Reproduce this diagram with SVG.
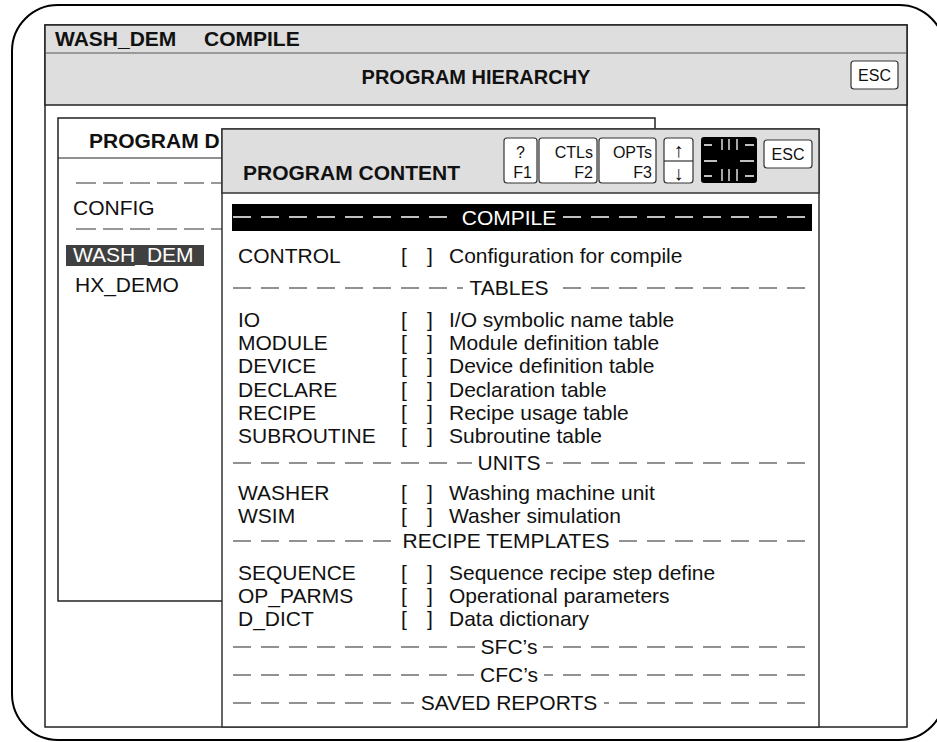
<svg xmlns="http://www.w3.org/2000/svg" width="937" height="742" viewBox="0 0 937 742">
  <defs>
    <style>
      text { font-family: "Liberation Sans", Arial, sans-serif; fill: #111; }
      .t { font-size: 21px; }
      .b { font-size: 21px; font-weight: bold; }
      .btn { font-size: 16px; }
      .arr { font-size: 20px; }
      .key { fill: #fff; stroke: #333; stroke-width: 1.2; }
      .dash { stroke: #6e6e6e; stroke-width: 1.5; stroke-dasharray: 18 10; fill: none; }
      .dashw { stroke: #fff; stroke-width: 1.5; stroke-dasharray: 18 10; fill: none; }
      .dashl { stroke: #333; stroke-width: 1.2; stroke-dasharray: 20 7; fill: none; }
      .mark { stroke: #fff; stroke-width: 1.3; fill: none; }
    </style>
  </defs>

  <!-- outer rounded frame -->
  <rect id="frame" x="12" y="5" width="933" height="735" rx="46" ry="46" fill="#fff" stroke="#000" stroke-width="2"/>

  <!-- main window -->
  <g id="main-window">
    <rect x="45" y="25" width="862" height="702" fill="#fff" stroke="#222" stroke-width="1.5"/>
    <rect x="45" y="25" width="862" height="80" fill="#dedede" stroke="#222" stroke-width="1.5"/>
    <line x1="45" y1="53" x2="907" y2="53" stroke="#555" stroke-width="1.2"/>
    <text class="b" x="55" y="46">WASH_DEM</text>
    <text class="b" x="204" y="46">COMPILE</text>
    <text class="b" x="476" y="84" text-anchor="middle" style="font-size:20px">PROGRAM HIERARCHY</text>
    <rect class="key" x="851" y="61" width="47" height="28" rx="3"/>
    <text class="btn" x="874.5" y="81" text-anchor="middle">ESC</text>
  </g>

  <!-- program directory panel (behind) -->
  <g id="program-directory">
    <rect x="58" y="118" width="597" height="483" fill="#fff" stroke="#222" stroke-width="1.5"/>
    <line x1="58" y1="158" x2="655" y2="158" stroke="#222" stroke-width="1.2"/>
    <text class="b" x="89" y="148">PROGRAM D</text>
    <line class="dashl" x1="76" y1="183" x2="222" y2="183"/>
    <text class="t" x="73" y="215">CONFIG</text>
    <line class="dashl" x1="76" y1="229" x2="222" y2="229"/>
    <rect x="66" y="245" width="138" height="21" fill="#404040"/>
    <text class="t" x="73" y="262" style="fill:#fff">WASH_DEM</text>
    <text class="t" x="75" y="292">HX_DEMO</text>
  </g>

  <!-- program content panel (front) -->
  <g id="program-content">
    <rect x="222" y="129" width="597" height="598" fill="#fff" stroke="#333" stroke-width="1.5"/>
    <rect x="222" y="129" width="597" height="64" fill="#dedede" stroke="#333" stroke-width="1.5"/>
    <text class="b" x="243" y="180">PROGRAM CONTENT</text>

    <!-- function keys -->
    <rect class="key" x="504" y="138" width="33" height="45" rx="3"/>
    <text class="btn" x="516" y="158">?</text>
    <text class="btn" x="532" y="178" text-anchor="end">F1</text>
    <rect class="key" x="539" y="138" width="58" height="45" rx="3"/>
    <text class="btn" x="593" y="158" text-anchor="end">CTLs</text>
    <text class="btn" x="593" y="178" text-anchor="end">F2</text>
    <rect class="key" x="599" y="138" width="57" height="45" rx="3"/>
    <text class="btn" x="652" y="158" text-anchor="end">OPTs</text>
    <text class="btn" x="652" y="178" text-anchor="end">F3</text>
    <rect class="key" x="664" y="138" width="29" height="45" rx="3"/>
    <line x1="664" y1="161" x2="693" y2="161" stroke="#333" stroke-width="1.2"/>
    <text class="arr" x="678.5" y="157" text-anchor="middle">↑</text>
    <text class="arr" x="678.5" y="180" text-anchor="middle">↓</text>

    <!-- cursor pad -->
    <rect x="701" y="137" width="56" height="46" rx="3" fill="#000"/>
    <path class="mark" d="M704 145H712M745 145H754M722 139V150M729 139V150M737 139V150"/>
    <path class="mark" d="M704 161H717M740 161H754"/>
    <path class="mark" d="M704 176H712M745 176H754M722 169V181M729 169V181M737 169V181"/>

    <rect class="key" x="764" y="140" width="48" height="28" rx="3"/>
    <text class="btn" x="788" y="160" text-anchor="middle">ESC</text>

    <!-- COMPILE bar -->
    <rect x="232" y="204" width="580" height="27" fill="#000"/>
    <line class="dashw" x1="233" y1="217" x2="455" y2="217"/>
    <line class="dashw" x1="805" y1="217" x2="563" y2="217"/>
    <text class="t" x="509" y="225" text-anchor="middle" style="fill:#fff">COMPILE</text>

    <text class="t" x="238" y="263">CONTROL</text>
    <text class="t" x="401" y="263">[</text><text class="t" x="427" y="263">]</text>
    <text class="t" x="449" y="263">Configuration for compile</text>

    <!-- TABLES -->
    <line class="dash" x1="233" y1="288" x2="463" y2="288"/>
    <line class="dash" x1="805" y1="288" x2="555" y2="288"/>
    <text class="t" x="509" y="295" text-anchor="middle">TABLES</text>

    <text class="t" x="238" y="327">IO</text>
    <text class="t" x="238" y="350">MODULE</text>
    <text class="t" x="238" y="373">DEVICE</text>
    <text class="t" x="238" y="397">DECLARE</text>
    <text class="t" x="238" y="420">RECIPE</text>
    <text class="t" x="238" y="443">SUBROUTINE</text>

    <text class="t" x="401" y="327">[</text><text class="t" x="427" y="327">]</text>
    <text class="t" x="401" y="350">[</text><text class="t" x="427" y="350">]</text>
    <text class="t" x="401" y="373">[</text><text class="t" x="427" y="373">]</text>
    <text class="t" x="401" y="397">[</text><text class="t" x="427" y="397">]</text>
    <text class="t" x="401" y="420">[</text><text class="t" x="427" y="420">]</text>
    <text class="t" x="401" y="443">[</text><text class="t" x="427" y="443">]</text>

    <text class="t" x="449" y="327">I/O symbolic name table</text>
    <text class="t" x="449" y="350">Module definition table</text>
    <text class="t" x="449" y="373">Device definition table</text>
    <text class="t" x="449" y="397">Declaration table</text>
    <text class="t" x="449" y="420">Recipe usage table</text>
    <text class="t" x="449" y="443">Subroutine table</text>

    <!-- UNITS -->
    <line class="dash" x1="233" y1="463" x2="472" y2="463"/>
    <line class="dash" x1="805" y1="463" x2="546" y2="463"/>
    <text class="t" x="509" y="470" text-anchor="middle">UNITS</text>

    <text class="t" x="238" y="500">WASHER</text>
    <text class="t" x="238" y="523">WSIM</text>
    <text class="t" x="401" y="500">[</text><text class="t" x="427" y="500">]</text>
    <text class="t" x="401" y="523">[</text><text class="t" x="427" y="523">]</text>
    <text class="t" x="449" y="500">Washing machine unit</text>
    <text class="t" x="449" y="523">Washer simulation</text>

    <!-- RECIPE TEMPLATES -->
    <line class="dash" x1="233" y1="541" x2="396" y2="541"/>
    <line class="dash" x1="805" y1="541" x2="616" y2="541"/>
    <text class="t" x="506" y="548" text-anchor="middle">RECIPE TEMPLATES</text>

    <text class="t" x="238" y="580">SEQUENCE</text>
    <text class="t" x="238" y="603">OP_PARMS</text>
    <text class="t" x="238" y="626">D_DICT</text>
    <text class="t" x="401" y="580">[</text><text class="t" x="427" y="580">]</text>
    <text class="t" x="401" y="603">[</text><text class="t" x="427" y="603">]</text>
    <text class="t" x="401" y="626">[</text><text class="t" x="427" y="626">]</text>
    <text class="t" x="449" y="580">Sequence recipe step define</text>
    <text class="t" x="449" y="603">Operational parameters</text>
    <text class="t" x="449" y="626">Data dictionary</text>

    <!-- SFC's / CFC's / SAVED REPORTS -->
    <line class="dash" x1="233" y1="647" x2="475" y2="647"/>
    <line class="dash" x1="805" y1="647" x2="543" y2="647"/>
    <text class="t" x="509" y="654" text-anchor="middle">SFC’s</text>

    <line class="dash" x1="233" y1="675" x2="474" y2="675"/>
    <line class="dash" x1="805" y1="675" x2="544" y2="675"/>
    <text class="t" x="509" y="682" text-anchor="middle">CFC’s</text>

    <line class="dash" x1="233" y1="703" x2="414" y2="703"/>
    <line class="dash" x1="805" y1="703" x2="604" y2="703"/>
    <text class="t" x="509" y="710" text-anchor="middle">SAVED REPORTS</text>
  </g>
</svg>
